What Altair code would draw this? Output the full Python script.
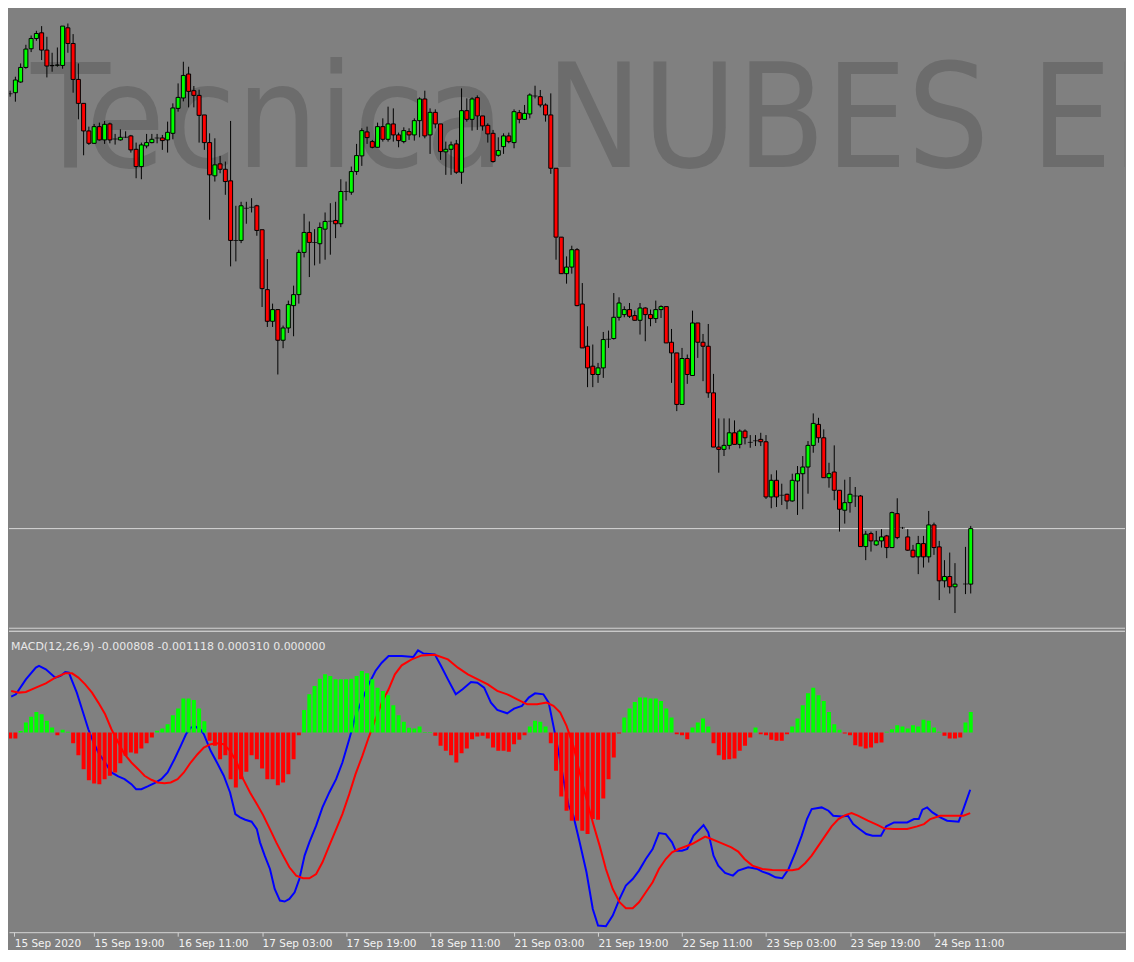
import altair as alt
import pandas as pd

# ---------------- data (price in chart points, MACD in chart points) -------------
candle_open = [
    548, 549, 559.7, 574.3, 593, 603.3, 609, 591.7, 576.3, 576.5,
    576.3, 614, 598.3, 562.3, 538.3, 510.7, 498.3, 515, 501.7, 517.7,
    502.7, 501.7, 504.3, 505.7, 492.3, 475, 495.7, 499, 503.7, 503.7,
    501.7, 508.3, 533.3, 543.7, 567.7, 551, 546.3, 526.7, 499, 465.7,
    477.7, 472.3, 460.7, 401, 401, 433.3, 434.3, 435.7, 411.7, 351.7,
    320, 331.7, 301, 313.3, 335.7, 346.7, 389, 409, 399, 397.7,
    412.3, 420.3, 421, 417.7, 450, 449.3, 470, 485.7, 509.7, 500,
    494.3, 515, 502.3, 517.7, 506.7, 500, 510, 506.7, 521, 542.7,
    506.7, 529.3, 517.7, 489.7, 492.3, 497.7, 469.3, 531, 522.3, 544,
    525.7, 516.3, 508.3, 486.3, 495, 505.7, 499, 529, 522.3, 527.7,
    545.7, 545, 536.7, 526.7, 473.3, 404.3, 367.7, 374.3, 391.7, 337.3,
    295, 275, 266.7, 273.3, 302, 302.7, 324, 326.7, 331.7, 325.7,
    321, 333.3, 326.7, 322.7, 331.7, 334.7, 299, 288.3, 236.7, 282.7,
    265.7, 318.3, 299, 295, 248.3, 194, 191.7, 195.7, 208.3, 196.7,
    210, 198.7, 200.3, 201.7, 199.3, 144, 160.7, 145.7, 146.7, 140,
    160, 167.3, 174, 195.7, 216.7, 203.3, 163.3, 169, 150.7, 130.7,
    138.3, 145, 145, 94.3, 107.3, 96, 100, 105, 93.3, 127.3,
    113, 104, 90.7, 84, 97.3, 84, 116, 94, 60, 64.3,
    54, None, 56.7, 56.7]
candle_high = [
    551, 565, 578.3, 597, 606.3, 611, 615.7, 605, 589, 594.3,
    615.7, 618.3, 607.7, 578.3, 538.3, 515, 517.7, 519, 520.7, 519,
    507.7, 512.3, 510.3, 506.7, 499, 499, 507.7, 507.7, 507.7, 506.7,
    520, 538.3, 558.3, 580, 575, 555.7, 552, 526.7, 508.3, 503.3,
    485.7, 480, 520.7, 435.7, 439.7, 439.7, 443.3, 436.7, 411.7, 382.3,
    337.7, 331.7, 315.7, 340.7, 355.7, 391.7, 427.7, 420, 412.3, 419,
    429, 438.3, 439.7, 462.3, 460, 475, 497.7, 513.3, 515, 501.7,
    519, 523.3, 535, 533.3, 509, 514.3, 513.3, 523.3, 544.3, 551,
    533.3, 532.3, 517.7, 500, 500, 501.7, 553.3, 543.3, 544.3, 546.3,
    525.7, 518.3, 511.7, 504.3, 508.3, 509, 532.3, 531.7, 536.7, 548.3,
    556, 551.7, 538.3, 548.3, 473.3, 404.3, 385, 395.7, 393.3, 358.3,
    315, 296.7, 278.3, 309.3, 310.7, 348.3, 344, 335, 338.3, 330.7,
    338.3, 334, 331.7, 340.7, 336, 334.7, 312.3, 288.3, 293.3, 286.7,
    330.7, 318.3, 307.3, 317.3, 267.3, 222.7, 222.7, 222.7, 220.7, 211.7,
    211.7, 206, 206, 208.3, 206, 166.7, 170.7, 157.3, 147.3, 167.3,
    175, 185, 200, 227.7, 223.3, 211.7, 178.3, 195.7, 150.7, 161.3,
    164, 154, 146, 110, 109.3, 110, 111.7, 106, 129.3, 142.7,
    114, 111.7, 96, 105, 105, 130, 118.3, 100, 80.7, 88.3,
    77.7, None, 94, 115]
candle_low = [
    545, 540, 559, 573, 589.7, 601, 581.7, 564.3, 570, 575,
    573, 589, 549, 522.3, 486.3, 496.7, 497.7, 501, 497.7, 498.3,
    497, 501, 503.7, 489, 463.3, 462.3, 493.3, 498.3, 498.3, 491.7,
    489, 502.3, 530, 540.3, 534.3, 534.3, 499, 491.7, 421.7, 460,
    468.3, 446.7, 375, 380, 398.3, 417.7, 429, 405.7, 334.3, 314.3,
    314.3, 266.7, 293, 308.3, 305, 337.7, 384, 364.3, 376, 377.7,
    381.7, 386.7, 403.3, 414.3, 441, 446.7, 466.7, 475.7, 497.7, 493.3,
    494.3, 500, 500, 500, 494.3, 498.3, 501.7, 501, 504.3, 503.3,
    487.7, 513.3, 481.7, 466.7, 466.7, 467.7, 457.7, 520, 511, 511.7,
    511, 499, 479, 485, 487.7, 498.3, 493.3, 518.3, 521.7, 523.3,
    543.3, 534.3, 520, 467.7, 381.7, 367.7, 357.7, 367.7, 335, 293.3,
    254, 254, 258.3, 263.3, 293.3, 301.7, 320.7, 324, 323.3, 320.7,
    306.7, 300, 315, 318.3, 323.3, 298.3, 258.3, 230, 236.7, 257.3,
    265.7, 283.3, 260, 243.3, 194, 168.3, 185, 191.7, 196.7, 192.7,
    196.7, 193.3, 195, 195, 142, 132.7, 134, 136, 131.7, 139.3,
    126, 131.7, 147.3, 188.3, 198.3, 163.3, 153.3, 140.7, 109.3, 117.3,
    128.3, 134, 94.3, 80.7, 89.3, 95, 93.3, 82.7, 93.3, 101.7,
    112, 90, 83.3, 66.7, 73.3, 78.3, 86, 40.7, 53.3, 47.3,
    27.7, None, 46.7, 47.3]
candle_close = [
    548, 561.7, 574.3, 592.7, 603.3, 608.3, 591.7, 575.7, 576, 576.7,
    615.7, 598.3, 562.3, 538.3, 510.7, 498.3, 515, 501.7, 517.3, 501.7,
    502.7, 504.3, 504.3, 491.7, 475, 496.7, 499, 502.3, 503.7, 501,
    509.3, 533.7, 544.3, 566.3, 550.3, 546.3, 526.3, 499, 466.7, 476.7,
    472.3, 460, 401, 401, 435.7, 433.3, 434.3, 411, 352.7, 320,
    331.7, 301, 313.3, 336.7, 346.7, 389, 409, 399, 399, 414,
    420, 420.3, 417.7, 450, 450, 470, 486, 511, 504, 494.3,
    515, 502.3, 517.7, 506.7, 501, 511, 506.7, 521, 542.7, 505.7,
    529.3, 517.7, 490, 492.3, 496.7, 469.3, 531, 522.3, 542.7, 525.7,
    515.7, 507.7, 480, 491, 505.7, 500, 530, 522.3, 528.3, 546.7,
    545.7, 536.7, 526.7, 473.3, 404.3, 367.7, 374.3, 391.7, 335.7, 293.3,
    273.3, 266.7, 273.3, 301.7, 302, 324, 338.3, 331.7, 325, 321,
    333.3, 326.7, 322.7, 331.7, 334.7, 298.3, 288.3, 236.7, 282.7, 266.7,
    318.3, 299, 295, 248.3, 194, 191.7, 195.7, 208.3, 196.7, 210,
    203.3, 198.7, 200.3, 199.3, 144, 160.7, 144, 145.7, 140, 160.7,
    167.3, 174, 195.7, 217.7, 203.3, 163.3, 167.3, 150.7, 131.7, 138.3,
    146.7, 145, 94.3, 106.7, 100, 100, 104, 93.3, 128.3, 103.3,
    113, 90.7, 84, 97.3, 84, 116, 93.3, 60, 64.3, 54,
    56.7, None, 56.7, 112.3]

osma = [
    -6, -6, 1.5, 10, 15.7, 20.7, 18.3, 11.7, 5, -2.7,
    2.7, 0.7, -10.7, -22.7, -36.7, -47.7, -51, -51.7, -46.7, -43.3,
    -40, -30.7, -23.3, -20, -21, -16, -10.7, -5, 1.7, 4,
    8.3, 17.3, 24, 34, 34, 32.7, 24, 11.3, -8.3, -13.3,
    -26.7, -22.7, -46.7, -55, -46.7, -39.3, -22.7, -26.7, -36, -46.7,
    -46.7, -52.7, -50, -41.7, -26.7, -2.7, 22.7, 38.3, 46.7, 54,
    58.3, 56.7, 53.3, 53.3, 53.3, 54, 56.7, 61.7, 59.3, 53.3,
    45, 41.7, 37.3, 27.3, 17.3, 10.7, 4.7, 4, 6, 0.5,
    0.5, -3.3, -13.3, -18.3, -22.7, -30, -20.7, -16, -6.7, -4,
    -3.3, -6, -15, -18.3, -18.3, -19.3, -11.7, -7.3, -2.7, 6,
    11.7, 10.7, 6, -10.7, -38.3, -64, -78.3, -88.3, -88.3, -98.3,
    -101.7, -86.7, -87.3, -66, -46.7, -25, -1, 15, 24, 30.7,
    35, 35, 34, 34, 31.7, 24, 15, -1.7, -2.7, -6.7,
    5, 10, 14, 6, -10.7, -22.7, -27.3, -26.7, -26, -18.3,
    -13.3, -5, 5, -1.7, -2.7, -7.3, -8.3, -8.3, -1.7, 6,
    14, 27.3, 39.3, 45, 37.3, 31.7, 20.7, 8.3, 2.7, -1,
    -2.7, -12.7, -14, -16, -15, -10.7, -10, 0.7, 3.3, 7.3,
    6, 4, 7.3, 6, 12.7, 11.7, 5, 0.7, -3.3, -6,
    -6, -5, 10, 20.7]

macd_bar = [0.2, 1.1, 3.0, 4.9, 5.5, 6.8, 8.6, 9.6, 10.5, 11.2, 11.8, 12.7, 13.7, 14.9, 15.9, 16.8, 18.1, 19.3,
            20.6, 21.8, 23.1, 24.0, 25.0, 26.2, 27.5, 28.8, 30.0, 31.3, 32.5, 33.5, 34.4, 35.3, 36.3, 36.9, 38.2,
            39.4, 40.7, 41.9, 42.9, 43.8, 44.8, 46.0, 47.0, 47.6, 48.5, 49.5, 50.4, 51.4, 52.3, 53.2, 54.2, 55.1,
            56.1, 57.0, 58.3, 59.5, 60.8, 62.1, 63.3, 64.6, 65.8, 67.1, 68.3, 69.6, 70.8, 72.1, 74.6, 76.8, 77.7,
            78.7, 80.9, 82.1, 83.4, 84.9, 86.2, 87.8, 89.0, 90.3, 91.6, 92.8, 94.7, 96.0, 97.5, 98.8, 100.0, 101.6,
            102.6, 103.5, 104.5, 105.4, 106.4, 107.3, 108.5, 109.8, 111.0, 112.0, 113.5, 114.8, 116.1, 117.3, 118.6,
            119.8, 121.1, 122.4, 123.6, 124.9, 126.1, 126.8, 128.0, 129.0, 130.2, 132.1, 133.0, 134.0, 134.9, 136.2,
            137.7, 138.7, 140.6, 142.4, 143.3, 144.6, 145.8, 147.1, 148.3, 149.6, 150.8, 151.8, 152.7, 154.6, 155.9,
            156.8, 158.4, 159.6, 160.6, 161.8, 163.1, 164.3, 165.9, 166.9, 168.4, 170.9, 172.2, 173.1, 173.8, 174.7,
            175.7, 177.2, 178.5, 180.7, 181.6, 182.9]
macd_val = [36, 38.3, 53.3, 65, 66.7, 63.3, 55, 56.7, 60.7, 60, 51.7, 40, 23.3, 3.3, -10, -20, -30, -40,
            -44, -46.7, -51.7, -56.7, -56.7, -54, -50.7, -46.7, -40, -26.7, -13.3, -1.7, 5, 6, 2.7, -1.7, -18.3,
            -30, -43.3, -60, -81.7, -85, -87.3, -89.3, -96.7, -110, -123.3, -136.7, -156.7, -168.3, -169.3, -166.7,
            -160, -146.7, -123.3, -110, -93.3, -75, -60, -46.7, -30, -6.7, 16.7, 33.3, 48.3, 61.7, 70, 76.7, 76.7,
            75.7, 82.3, 79.3, 78.3, 66.7, 53.3, 38.3, 43.3, 50.7, 50, 45, 30, 22.7, 19.3, 24, 26.7, 35, 39.3, 38.3,
            30, 6.7, -20, -46.7, -73.3, -83.3, -110, -140, -176.7, -193.3, -194, -183.3, -166.7, -153.3, -146.7,
            -138.3, -126.7, -116.7, -100.7, -101.7, -110, -118.3, -118.3, -116.7, -103.3, -92.7, -100, -123.3,
            -133.3, -140.7, -143.3, -138.3, -135, -136.7, -139.3, -141.7, -145, -146, -136.7, -120, -103.3, -86.7,
            -76.7, -75, -78.3, -83.3, -84, -83.3, -91.7, -96.7, -101.7, -103.3, -103.3, -94, -90, -90, -86.7, -86.7,
            -77.3, -75, -80, -85, -88.3, -89.3, -76.7, -57.3]

signal_bar = [0.2, 1.7, 3.0, 4.9, 6.8, 8.6, 10.5, 11.8, 13.0, 14.3, 15.6, 16.8, 18.1, 19.3, 20.6, 21.8, 23.1,
              24.4, 25.6, 26.9, 28.1, 29.4, 30.6, 31.9, 33.1, 34.4, 35.7, 36.9, 38.2, 39.4, 40.7, 41.9, 43.2, 44.4,
              45.7, 47.0, 48.2, 49.5, 50.7, 52.0, 53.2, 54.5, 55.8, 57.0, 58.3, 59.5, 60.8, 62.0, 63.3, 64.6, 65.8,
              67.1, 68.3, 69.6, 70.8, 72.1, 73.3, 74.6, 76.5, 78.4, 80.9, 83.4, 85.3, 87.2, 89.1, 91.0, 92.8, 94.7,
              96.6, 98.5, 100.4, 102.2, 103.5, 104.8, 106.0, 107.3, 108.5, 109.8, 111.0, 112.3, 113.5, 114.8, 116.1,
              117.3, 118.6, 119.8, 121.1, 122.4, 123.6, 124.9, 126.1, 127.4, 129.9, 132.4, 133.6, 135.5, 137.4,
              138.7, 139.9, 141.4, 143.3, 145.2, 147.1, 149.0, 150.2, 151.5, 152.7, 154.0, 155.3, 156.5, 157.8,
              159.1, 160.3, 161.5, 163.4, 165.3, 166.5, 168.4, 170.9, 172.8, 174.1, 175.3, 177.2, 179.1, 181.6, 182.9]
signal_val = [41.7, 40, 40.7, 45, 49.3, 55, 59.3, 59.3, 55, 48.3, 40, 30, 18.3, 3.3, -10, -21.7, -30, -36.7,
              -43.3, -47.3, -50, -50.7, -50, -46.7, -40, -30, -21.7, -15, -11.7, -10.7, -11.7, -18.3, -30, -46.7,
              -60, -71.7, -82.7, -96.7, -110, -123.3, -135, -143.3, -146, -146, -141.7, -130, -113.3, -98.3, -81.7,
              -61.7, -41.7, -23.3, -5, 13.3, 30, 43.3, 58.3, 67.3, 73.3, 77.3, 78, 73.3, 65, 58.3, 53.3, 48.3, 41.7,
              38.3, 33.3, 28.3, 28.3, 30, 26.7, 20, 6.7, -13.3, -40, -66.7, -90, -113.3, -136.7, -156.7, -170, -176,
              -176, -170, -160, -150, -136.7, -126.7, -120, -116.7, -111.7, -104.3, -106.7, -110.7, -115, -119.3,
              -126.7, -133.3, -136.7, -137.7, -138, -138, -136.7, -130.7, -123.3, -113.3, -103.3, -94, -86.7, -82.7,
              -80.7, -83.3, -88.3, -92.7, -96, -96.7, -96.7, -94, -91.7, -86.7, -83.3, -83.3, -83.3, -80.7]

tick_bars = [0.8, 16, 32, 48, 64, 80, 96, 112, 128, 144, 160, 176]
tick_labels = ["15 Sep 2020", "15 Sep 19:00", "16 Sep 11:00", "17 Sep 03:00", "17 Sep 19:00",
               "18 Sep 11:00", "21 Sep 03:00", "21 Sep 19:00", "22 Sep 11:00", "23 Sep 03:00",
               "23 Sep 19:00", "24 Sep 11:00"]

watermark_text = "Tecnica NUBES EN"
macd_title = "MACD(12,26,9) -0.000808 -0.001118 0.000310 0.000000"

# ---------------- tables ----------------
rows = []
for i, (o, h, l, c) in enumerate(zip(candle_open, candle_high, candle_low, candle_close)):
    if o is None:
        continue
    d = "up" if c > o else ("down" if c < o else "flat")
    rows.append(dict(bar=i, open=o, high=h, low=l, close=c, dir=d))
candles = pd.DataFrame(rows)
hist = pd.DataFrame({"bar": list(range(len(osma))), "osma": osma,
                     "sign": ["pos" if v >= 0 else "neg" for v in osma]})
macd_df = pd.DataFrame({"bar": macd_bar, "val": macd_val})
sig_df = pd.DataFrame({"bar": signal_bar, "val": signal_val})
bid_df = pd.DataFrame({"bid": [candles["close"].iloc[-1]]})

W = 1118
TOP_H = 617
BOT_H = 305
BG = "#808080"
LIGHT = "#d4d4d4"
PX_PER_BAR = 5.306
X0 = 0.735

xs = alt.Scale(domain=[X0, X0 + W / PX_PER_BAR], nice=False, zero=False)
y_price = alt.Scale(domain=[15, 632], nice=False, zero=False)
y_macd = alt.Scale(domain=[-200, 105], nice=False, zero=False)

x_top = alt.X("bar:Q", scale=xs, axis=None)

label_expr = "[" + ",".join("'" + s + "'" for s in tick_labels) + "][round(datum.value / 16)]"
bottom_axis = alt.Axis(values=tick_bars, labelExpr=label_expr, title=None, grid=False,
                       domain=True, domainColor=LIGHT, domainWidth=1, ticks=True, tickColor=LIGHT,
                       tickSize=4, tickWidth=1, labelAlign="left", labelBaseline="top",
                       labelColor="#f2f2f2", labelFont="DejaVu Sans", labelFontSize=10.5,
                       labelPadding=2, labelFlush=False, labelOverlap=False)
x_bot = alt.X("bar:Q", scale=xs, axis=bottom_axis)

# ---------------- top panel ----------------
wm = alt.Chart(pd.DataFrame({"t": [watermark_text]})).mark_text(
    align="left", baseline="alphabetic", font="DejaVu Sans Condensed", fontSize=144,
    color="#6c6c6c", clip=True
).encode(x=alt.value(22), y=alt.value(157), text="t:N")

base = alt.Chart(candles)
wicks = base.mark_rule(color="#000000", strokeWidth=1, clip=True).encode(
    x=x_top, y=alt.Y("low:Q", scale=y_price, axis=None), y2="high:Q")
bodies = base.transform_filter("datum.dir != 'flat'").mark_bar(
    width=4, stroke="#000000", strokeWidth=1, clip=True
).encode(
    x=x_top, y=alt.Y("open:Q", scale=y_price, axis=None), y2="close:Q",
    color=alt.Color("dir:N", scale=alt.Scale(domain=["up", "down"], range=["#00ff00", "#ff0000"]),
                    legend=None))
dojis = base.transform_filter("datum.dir == 'flat'").mark_tick(
    orient="horizontal", size=5, thickness=1, color="#000000", clip=True
).encode(x=x_top, y=alt.Y("close:Q", scale=y_price, axis=None))
bid = alt.Chart(bid_df).mark_rule(color="#d8d8d8", strokeWidth=1).encode(
    y=alt.Y("bid:Q", scale=y_price, axis=None), x=alt.value(0), x2=alt.value(W))

top = alt.layer(wm, bid, wicks, bodies, dojis).properties(width=W, height=TOP_H)

# ---------------- bottom panel ----------------
sep1 = alt.Chart(bid_df).mark_rule(color=LIGHT, strokeWidth=1).encode(
    x=alt.value(0), x2=alt.value(W), y=alt.value(0.5))
sep2 = alt.Chart(bid_df).mark_rule(color="#e6e6e6", strokeWidth=1).encode(
    x=alt.value(0), x2=alt.value(W), y=alt.value(3.5))
title_txt = alt.Chart(pd.DataFrame({"t": [macd_title]})).mark_text(
    align="left", baseline="middle", font="DejaVu Sans", fontSize=11, color="#e8e8e8"
).encode(x=alt.value(2), y=alt.value(19), text="t:N")

macd_line = alt.Chart(macd_df).mark_line(color="#0000ff", strokeWidth=2, clip=True).encode(
    x=x_bot, y=alt.Y("val:Q", scale=y_macd, axis=None), order="bar:Q")
sig_line = alt.Chart(sig_df).mark_line(color="#ff0000", strokeWidth=2, clip=True).encode(
    x=x_bot, y=alt.Y("val:Q", scale=y_macd, axis=None), order="bar:Q")
hist_bars = alt.Chart(hist).mark_bar(width=4, clip=True).encode(
    x=x_bot, y=alt.Y("osma:Q", scale=y_macd, axis=None), y2=alt.datum(0),
    color=alt.Color("sign:N", scale=alt.Scale(domain=["pos", "neg"], range=["#00ff00", "#ff0000"]),
                    legend=None))

bottom = alt.layer(macd_line, sig_line, hist_bars, sep1, sep2, title_txt).properties(width=W, height=BOT_H)

chart = alt.vconcat(top, bottom, spacing=0).properties(
    padding=0, background=BG
).configure_view(stroke="transparent")

chart.save("out.html", embed_options={"renderer": "svg", "actions": False})
